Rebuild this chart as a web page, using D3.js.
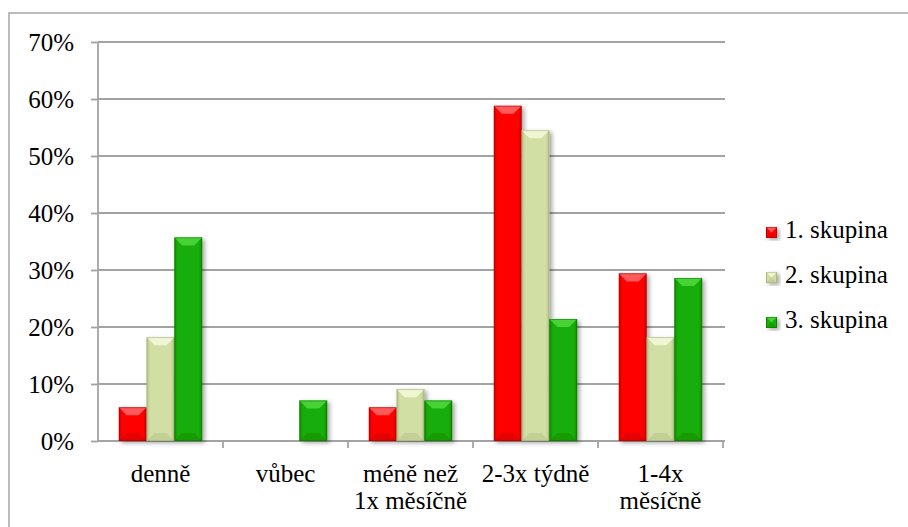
<!DOCTYPE html>
<html>
<head>
<meta charset="utf-8">
<script src="https://cdn.jsdelivr.net/npm/d3@7/dist/d3.min.js"></script>
<style>
  html, body { margin: 0; padding: 0; background: #fff; }
  svg { display: block; }
  svg text { font-family: "Liberation Serif", Tinos, "Times New Roman", Times, "Nimbus Roman", "DejaVu Serif", serif !important; fill: #000; }
</style>
</head>
<body>
<svg id="chart" width="908" height="527"></svg>
<script>
// Frequency categories (x axis), label lines split where the label wraps
const categories = ["denně", "vůbec", "méně než 1x měsíčně", "2-3x týdně", "1-4x měsíčně"];
const categoryLines = [["denně"], ["vůbec"], ["méně než", "1x měsíčně"], ["2-3x týdně"], ["1-4x", "měsíčně"]];

// Series (share of each group, in %)
const seriesNames = ["1. skupina", "2. skupina", "3. skupina"];
const skupina1 = [5.9, 0, 5.9, 58.8, 29.4];
const skupina2 = [18.2, 0, 9.1, 54.5, 18.2];
const skupina3 = [35.7, 7.1, 7.1, 21.4, 28.6];
const seriesValues = [skupina1, skupina2, skupina3];

// Y axis ticks
const yTicks = [0, 10, 20, 30, 40, 50, 60, 70];

const FONT = '"Liberation Serif", Tinos, "Times New Roman", Times, "Nimbus Roman", "DejaVu Serif", serif';

// Palette per series: main face, side edge, top facet, bottom facet
const palette = [
  { main: "#ff0000", edge: "#cc0000", top: "#ff6a6a", bottom: "#b80000", stroke: "#a00000" },
  { main: "#d1dea4", edge: "#b3c184", top: "#f6f9dc", bottom: "#a9b77c", stroke: "#9aa870" },
  { main: "#17ad07", edge: "#0f8c04", top: "#4fd83c", bottom: "#0c7a03", stroke: "#0a6a02" }
];

const svg = d3.select("#chart");
const defs = svg.append("defs");

// soft drop shadow under each bar
const shadow = defs.append("filter").attr("id", "barShadow")
  .attr("x", "-30%").attr("y", "-10%").attr("width", "160%").attr("height", "130%");
shadow.append("feDropShadow").attr("dx", 2.5).attr("dy", 2).attr("stdDeviation", 2)
  .attr("flood-color", "#000").attr("flood-opacity", 0.35);

// horizontal gradient giving the rounded side look
palette.forEach((p, i) => {
  const g = defs.append("linearGradient").attr("id", "face" + i)
    .attr("x1", "0").attr("x2", "1").attr("y1", "0").attr("y2", "0");
  g.append("stop").attr("offset", "0").attr("stop-color", p.edge);
  g.append("stop").attr("offset", "0.12").attr("stop-color", p.main);
  g.append("stop").attr("offset", "0.88").attr("stop-color", p.main);
  g.append("stop").attr("offset", "1").attr("stop-color", p.edge);
});

// Outer frame
svg.append("rect").attr("x", 9).attr("y", 13).attr("width", 920).attr("height", 540)
  .attr("fill", "none").attr("stroke", "#a6a6a6").attr("stroke-width", 1.5);

const plot = { left: 98, right: 723, top: 42, bottom: 441 };

const x = d3.scaleBand().domain(categories).range([plot.left, plot.right]).padding(0);
const bw = x.bandwidth();
// 150 % gap between groups
const inner = d3.scaleBand().domain(seriesNames)
  .range([bw * 0.75 / 4.5, bw * 3.75 / 4.5]).padding(0);
const y = d3.scaleLinear().domain([0, 70]).range([plot.bottom, plot.top]);

// Gridlines
svg.append("g").selectAll("line").data(yTicks.filter(t => t > 0)).join("line")
  .attr("x1", plot.left).attr("x2", plot.right + 2)
  .attr("y1", d => y(d)).attr("y2", d => y(d))
  .attr("stroke", "#a3a3a3").attr("stroke-width", 1.8);

// Y axis
const yAxis = svg.append("g").attr("transform", `translate(${plot.left},0)`)
  .call(d3.axisLeft(y).tickValues(yTicks).tickSize(7).tickPadding(17)
    .tickFormat(d => d + "%"));
yAxis.attr("font-family", FONT).attr("font-size", 25);
yAxis.select(".domain").attr("stroke", "#a3a3a3").attr("stroke-width", 1.8)
  .attr("d", `M0,${plot.top}V${plot.bottom}`);
yAxis.selectAll(".tick line").attr("stroke", "#a3a3a3").attr("stroke-width", 1.8);
yAxis.selectAll(".tick text").attr("font-size", 25).attr("dy", "0.34em")
  .attr("font-family", FONT).attr("fill", "#000");

// X axis line with ticks at category boundaries
const xg = svg.append("g");
xg.append("line").attr("x1", plot.left).attr("x2", plot.right + 2)
  .attr("y1", plot.bottom).attr("y2", plot.bottom)
  .attr("stroke", "#a3a3a3").attr("stroke-width", 1.8);
const boundaries = categories.map(c => x(c) + bw);
xg.selectAll("line.tk").data(boundaries).join("line").attr("class", "tk")
  .attr("x1", d => d).attr("x2", d => d)
  .attr("y1", plot.bottom).attr("y2", plot.bottom + 7)
  .attr("stroke", "#a3a3a3").attr("stroke-width", 1.8);

// Category labels
const lab = svg.append("g").selectAll("text").data(categories).join("text")
  .attr("text-anchor", "middle").attr("font-size", 25).attr("font-family", FONT)
  .attr("x", d => x(d) + bw / 2).attr("y", 482);
lab.each(function (d, i) {
  d3.select(this).selectAll("tspan").data(categoryLines[i]).join("tspan")
    .attr("x", x(d) + bw / 2).attr("dy", (t, j) => j === 0 ? 0 : 26.5).text(t => t);
});

// Bevelled bar drawing
function drawBar(g, bx, by, w, h, p, si) {
  if (h <= 0) return;
  const b = Math.min(8, h / 2, w / 2);
  const bar = g.append("g").attr("filter", "url(#barShadow)");
  bar.append("rect").attr("x", bx).attr("y", by).attr("width", w).attr("height", h)
    .attr("fill", `url(#face${si})`);
  // top facet
  bar.append("path")
    .attr("d", `M${bx},${by}H${bx + w}L${bx + w - b},${by + b}H${bx + b}Z`)
    .attr("fill", p.top).attr("opacity", 0.85);
  // bottom facet
  bar.append("path")
    .attr("d", `M${bx},${by + h}H${bx + w}L${bx + w - b},${by + h - b}H${bx + b}Z`)
    .attr("fill", p.bottom).attr("opacity", 0.35);
  bar.append("rect").attr("x", bx + 0.4).attr("y", by + 0.4)
    .attr("width", w - 0.8).attr("height", h - 0.8)
    .attr("fill", "none").attr("stroke", p.stroke).attr("stroke-width", 0.8).attr("opacity", 0.6);
}

const bars = svg.append("g");
seriesNames.forEach((s, si) => {
  seriesValues[si].forEach((v, ci) => {
    const c = categories[ci];
    const bx = x(c) + inner(s);
    const by = y(v);
    drawBar(bars, bx, by, inner.bandwidth(), y(0) - by, palette[si], si);
  });
});

// Legend
const legend = svg.append("g");
seriesNames.forEach((s, i) => {
  const ly = 238 + i * 45;
  const sq = legend.append("g");
  drawBar(sq, 766, ly - 11, 11, 11, palette[i], i);
  legend.append("text").attr("x", 785).attr("y", ly).attr("font-size", 25)
    .attr("font-family", FONT).text(s);
});
</script>
</body>
</html>
